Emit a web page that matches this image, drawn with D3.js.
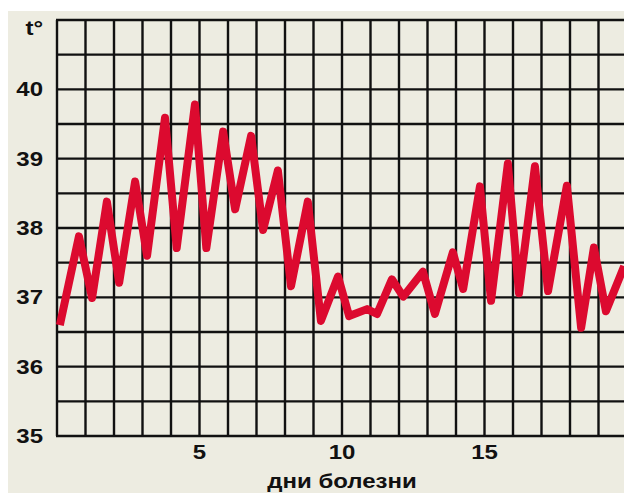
<!DOCTYPE html>
<html>
<head>
<meta charset="utf-8">
<script src="https://cdn.jsdelivr.net/npm/d3@7"></script>
<style>
  html, body { margin: 0; padding: 0; background: #fff; }
  svg { display: block; }
</style>
</head>
<body>
<svg id="chart" width="624" height="493"></svg>
<script>
  // days of illness (morning / evening readings)
  const days = [0.1, 0.77, 1.23, 1.75, 2.18, 2.74, 3.16, 3.79, 4.2, 4.84,
    5.24, 5.83, 6.25, 6.81, 7.23, 7.75, 8.21, 8.8, 9.26, 9.86,
    10.25, 10.88, 11.23, 11.75, 12.15, 12.84, 13.26, 13.89, 14.25, 14.84,
    15.23, 15.82, 16.21, 16.77, 17.23, 17.89, 18.39, 18.84, 19.26, 19.9];
  const temps = [36.6, 37.88, 36.99, 38.38, 37.21, 38.67, 37.6, 39.59, 37.71, 39.78,
    37.71, 39.39, 38.27, 39.33, 37.97, 38.83, 37.16, 38.38, 36.66, 37.3,
    36.73, 36.83, 36.76, 37.26, 37.01, 37.37, 36.76, 37.65, 37.12, 38.6,
    36.95, 38.93, 37.06, 38.89, 37.09, 38.61, 36.56, 37.72, 36.8, 37.45];

  const yTicks = [35, 36, 37, 38, 39, 40];
  const xTicks = [5, 10, 15];
  const yLabel = 't°';
  const xLabel = 'дни  болезни';

  const svg = d3.select('#chart');
  const W = 624, H = 493;

  const x = d3.scaleLinear().domain([0, 20]).range([57, 627]);
  const y = d3.scaleLinear().domain([35, 41]).range([436, 20]);

  svg.append('rect')
    .attr('x', 8).attr('y', 11)
    .attr('width', W - 8).attr('height', H - 11)
    .attr('fill', '#edece1');

  // grid: half-degree rows, one column per day
  const grid = svg.append('g').attr('stroke', '#111').attr('stroke-width', 2.4);
  grid.selectAll('line.h')
    .data(d3.range(35, 41.01, 0.5))
    .enter().append('line')
    .attr('x1', x(0) - 1).attr('x2', W)
    .attr('y1', d => y(d)).attr('y2', d => y(d));
  grid.selectAll('line.v')
    .data(d3.range(0, 21))
    .enter().append('line')
    .attr('x1', d => x(d)).attr('x2', d => x(d))
    .attr('y1', y(41)).attr('y2', y(35));

  // wide bold sans: Liberation Sans stretched horizontally
  const label = (sel, anchor) => sel
    .attr('text-anchor', anchor)
    .style('font-family', '"Liberation Sans", Arial, sans-serif')
    .style('font-weight', 'bold')
    .style('font-size', '20px')
    .attr('fill', '#111');

  svg.append('g')
    .selectAll('text')
    .data(yTicks)
    .enter().append('text')
    .attr('transform', d => `translate(43,${y(d) + 7}) scale(1.2,1)`)
    .call(label, 'end')
    .text(d => d);

  svg.append('text')
    .attr('transform', 'translate(43,35) scale(1.2,1)')
    .call(label, 'end')
    .text(yLabel);

  svg.append('g')
    .selectAll('text')
    .data(xTicks)
    .enter().append('text')
    .attr('transform', d => `translate(${x(d)},459) scale(1.2,1)`)
    .call(label, 'middle')
    .text(d => d);

  svg.append('text')
    .attr('transform', 'translate(342,488) scale(1.2,1)')
    .call(label, 'middle')
    .text(xLabel);

  const line = d3.line()
    .x((d, i) => x(days[i]))
    .y(d => y(d));

  svg.append('path')
    .datum(temps)
    .attr('d', line)
    .attr('fill', 'none')
    .attr('stroke', '#dc0a2f')
    .attr('stroke-width', 8)
    .attr('stroke-linejoin', 'round')
    .attr('stroke-linecap', 'butt');
</script>
</body>
</html>
